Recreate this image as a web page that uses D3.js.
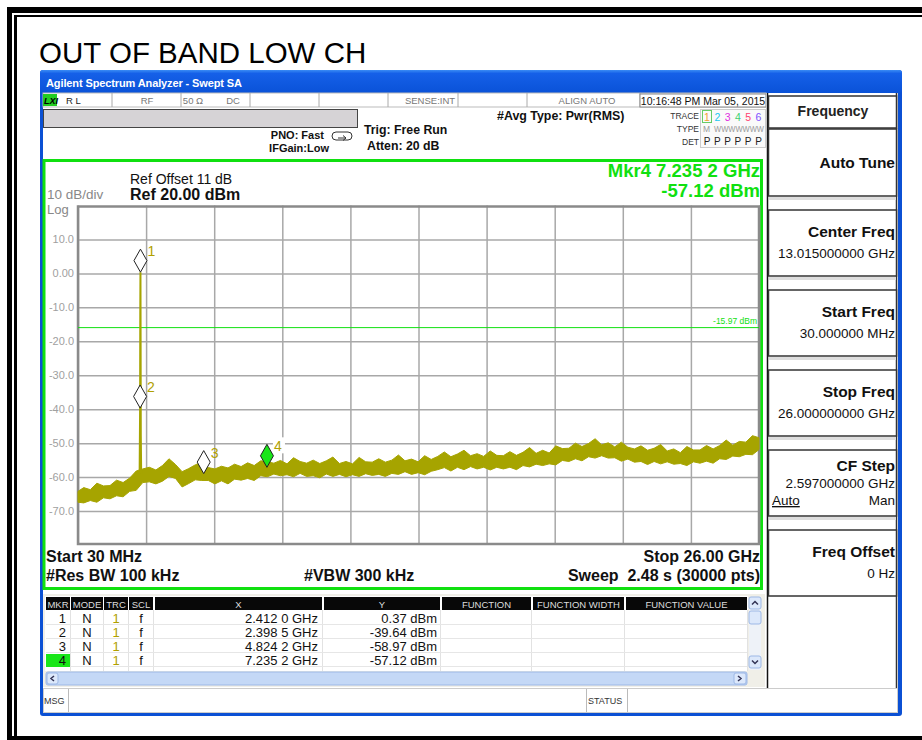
<!DOCTYPE html>
<html><head><meta charset="utf-8">
<script src="https://cdn.jsdelivr.net/npm/d3@7"></script>
<style>body{margin:0;background:#fff}svg{display:block}text{font-family:"Liberation Sans",Arial,sans-serif}</style>
</head><body>
<script>
// ---------- DATA ----------
const chartTitle = "OUT OF BAND LOW CH";
const startGHz = 0.03, stopGHz = 26.0;
const refLevel = 20, dbPerDiv = 10, nDivY = 10, nDivX = 10;
const yTickValues = [10, 0, -10, -20, -30, -40, -50, -60, -70];
const yTickLabels = ["10.0", "0.00", "-10.0", "-20.0", "-30.0", "-40.0", "-50.0", "-60.0", "-70.0"];
const displayLine = -15.97;
const traceStepGHz = 0.25;
const traceLow = [-67.4,-67.6,-66.9,-67.4,-66.1,-66.4,-65.5,-65.8,-64.2,-63.9,
 -61.6,-61.4,-62.0,-61.2,-59.8,-60.4,-62.9,-61.9,-60.8,-61.0,
 -61.0,-62.0,-61.1,-62.0,-60.6,-60.9,-60.4,-61.0,-59.6,-59.9,
 -59.1,-59.6,-59.3,-59.9,-58.9,-59.8,-59.6,-60.2,-59.1,-59.8,
 -59.2,-59.9,-59.3,-59.8,-59.0,-59.5,-59.2,-59.8,-58.9,-59.2,
 -58.4,-59.2,-58.7,-59.3,-58.3,-57.8,-57.2,-58.2,-57.1,-57.8,
 -56.9,-57.6,-57.1,-57.9,-57.1,-57.6,-57.1,-57.8,-56.6,-57.0,
 -56.2,-56.6,-56.1,-56.4,-55.1,-55.4,-54.6,-55.2,-54.0,-54.4,
 -53.7,-54.4,-54.3,-55.3,-54.7,-55.6,-55.4,-56.3,-55.4,-56.1,
 -55.5,-56.2,-56.0,-56.6,-55.5,-55.9,-55.3,-55.9,-54.6,-54.8,
 -53.8,-54.0,-53.3,-53.4,-51.9];
const traceHigh = [-64.2,-63.1,-63.7,-61.8,-62.6,-62.5,-60.9,-61.6,-60.3,-58.2,
 -57.6,-57.1,-57.9,-56.6,-54.6,-56.3,-58.4,-57.5,-56.4,-55.6,
 -57.2,-57.6,-56.8,-57.3,-56.2,-56.9,-55.8,-56.6,-55.2,-55.5,
 -55.9,-55.1,-56.1,-54.3,-55.4,-55.9,-55.0,-56.0,-55.2,-54.1,
 -56.0,-55.4,-56.1,-54.2,-55.5,-55.6,-54.6,-55.6,-55.0,-53.5,
 -55.2,-54.7,-55.5,-53.7,-54.8,-53.9,-52.6,-54.0,-53.2,-52.1,
 -53.7,-53.1,-53.9,-52.3,-53.6,-53.7,-52.5,-53.6,-52.7,-51.3,
 -53.0,-52.1,-52.9,-50.8,-51.6,-51.5,-50.0,-51.0,-50.1,-48.7,
 -50.5,-49.9,-51.1,-49.7,-51.2,-51.7,-50.8,-52.1,-51.5,-50.4,
 -52.3,-51.7,-52.8,-51.0,-52.0,-52.0,-50.7,-51.7,-50.7,-49.1,
 -50.6,-49.5,-49.7,-47.8,-48.4];
// carrier spike (GHz, dBm)
const carrierFreq = [2.380, 2.3985, 2.405, 2.412, 2.418, 2.425, 2.440];
const carrierLevel = [-59.0, -39.64, -12.0, 0.37, -22.0, -48.0, -59.5];
// markers
const markerIds = [1, 2, 3, 4];
const markerFreqGHz = [2.4120, 2.3985, 4.8242, 7.2352];
const markerLevel = [0.37, -39.64, -58.97, -57.12];
const markerXText = ["2.412 0 GHz", "2.398 5 GHz", "4.824 2 GHz", "7.235 2 GHz"];
const markerYText = ["0.37 dBm", "-39.64 dBm", "-58.97 dBm", "-57.12 dBm"];
const activeMarker = 4;
// softkeys
const softTitles = ["Center Freq", "Start Freq", "Stop Freq", "CF Step", "Freq Offset"];
const softValues = ["13.015000000 GHz", "30.000000 MHz", "26.000000000 GHz", "2.597000000 GHz", "0 Hz"];
const traceColors = ["#f0a030", "#20c8f0", "#e030e0", "#40d070", "#ff4070", "#8050ff"];

// ---------- DRAW ----------
const W = 922, H = 740;
const svg = d3.select("body").append("svg").attr("width", W).attr("height", H);
const OLIVE = "#a6a400", GREEN = "#10e010", GRID = "#a8a8a8";

// outer frame
svg.append("rect").attr("x", 7).attr("y", 7).attr("width", 915).attr("height", 6).attr("fill", "#000");
svg.append("rect").attr("x", 7).attr("y", 7).attr("width", 5).attr("height", 733).attr("fill", "#000");
svg.append("rect").attr("x", 14).attr("y", 15).attr("width", 908).attr("height", 2).attr("fill", "#000");
svg.append("rect").attr("x", 14).attr("y", 15).attr("width", 3).attr("height", 725).attr("fill", "#000");
svg.append("rect").attr("x", 7).attr("y", 736).attr("width", 915).attr("height", 4).attr("fill", "#000");
svg.append("text").attr("x", 39).attr("y", 63).attr("font-size", 29.5).attr("fill", "#000").text(chartTitle);

// window
const defs = svg.append("defs");
const g1 = defs.append("linearGradient").attr("id", "tb").attr("x1", 0).attr("y1", 0).attr("x2", 0).attr("y2", 1);
g1.append("stop").attr("offset", "0%").attr("stop-color", "#3a8cf4");
g1.append("stop").attr("offset", "15%").attr("stop-color", "#1560e8");
g1.append("stop").attr("offset", "100%").attr("stop-color", "#0a52d8");
svg.append("rect").attr("x", 40).attr("y", 70).attr("width", 862).attr("height", 646).attr("rx", 3).attr("fill", "#0b50d4");
svg.append("rect").attr("x", 40).attr("y", 70).attr("width", 862).attr("height", 23).attr("rx", 3).attr("fill", "url(#tb)");
svg.append("rect").attr("x", 43).attr("y", 93).attr("width", 855).attr("height", 620).attr("fill", "#fff");
svg.append("text").attr("x", 46).attr("y", 87).attr("font-size", 11).attr("font-weight", "bold").attr("fill", "#fff")
  .attr("font-family", "'DejaVu Sans',sans-serif").attr("textLength", 196).text("Agilent Spectrum Analyzer - Swept SA");

// status row
svg.append("rect").attr("x", 43).attr("y", 93).attr("width", 723).attr("height", 14).attr("fill", "#fff").attr("stroke", "#bbb");
[112, 181, 250, 319, 388, 458, 527, 640].forEach(x => svg.append("line").attr("x1", x).attr("x2", x).attr("y1", 93).attr("y2", 107).attr("stroke", "#aaa"));
svg.append("rect").attr("x", 43).attr("y", 94).attr("width", 14).attr("height", 12).attr("fill", "#22cc22");
svg.append("text").attr("x", 44).attr("y", 104).attr("font-size", 9).attr("font-weight", "bold").attr("font-style", "italic").text("LXI");
const st = (x, t, anchor) => svg.append("text").attr("x", x).attr("y", 104).attr("font-size", 9.5).attr("fill", "#777").attr("text-anchor", anchor || "start").text(t);
st(66, "R L").attr("fill", "#222"); st(147, "RF", "middle"); st(193, "50 Ω", "middle"); st(233, "DC", "middle");
st(430, "SENSE:INT", "middle"); st(587, "ALIGN AUTO", "middle");
svg.append("rect").attr("x", 640).attr("y", 94).attr("width", 126).attr("height", 13).attr("fill", "#fff").attr("stroke", "#888");
svg.append("text").attr("x", 703).attr("y", 104.5).attr("font-size", 10.5).attr("text-anchor", "middle").attr("fill", "#111").text("10:16:48 PM Mar 05, 2015");

// gray bar + settings
svg.append("rect").attr("x", 43.5).attr("y", 109.5).attr("width", 314).attr("height", 18).attr("fill", "#d6d3d6").attr("stroke", "#444");
const bt = (x, y, t, fs, anchor) => svg.append("text").attr("x", x).attr("y", y).attr("font-size", fs).attr("font-weight", "bold").attr("text-anchor", anchor || "start").attr("fill", "#111").text(t);
bt(324, 139, "PNO: Fast", 11, "end"); bt(329, 152, "IFGain:Low", 11, "end");
svg.append("rect").attr("x", 332).attr("y", 132).attr("width", 20).attr("height", 8).attr("rx", 4).attr("fill", "none").attr("stroke", "#333");
svg.append("path").attr("d", "M338,138 L346,138 M343,135.5 L346,138 L343,140.5").attr("stroke", "#333").attr("fill", "none");
bt(364, 134, "Trig: Free Run", 12.3); bt(367, 150, "Atten: 20 dB", 12.3);
bt(497, 120, "#Avg Type: Pwr(RMS)", 12.4);
const sm = (x, y, t) => svg.append("text").attr("x", x).attr("y", y).attr("font-size", 8.5).attr("text-anchor", "end").attr("fill", "#333").text(t);
sm(699, 119, "TRACE"); sm(699, 132, "TYPE"); sm(699, 145, "DET");
svg.append("rect").attr("x", 700.5).attr("y", 109.5).attr("width", 65).attr("height", 38).attr("fill", "#fafafa").attr("stroke", "#ccc");
svg.append("rect").attr("x", 702.5).attr("y", 110.5).attr("width", 9).attr("height", 12).attr("fill", "none").attr("stroke", "#6c6");
traceColors.forEach((c, i) => {
  const x = 707 + i * 10.3;
  svg.append("text").attr("x", x).attr("y", 120.5).attr("font-size", 10.5).attr("text-anchor", "middle").attr("fill", c).text(i + 1);
  svg.append("text").attr("x", x).attr("y", 145).attr("font-size", 10).attr("text-anchor", "middle").attr("fill", "#222").text("P");
});
svg.append("text").attr("x", 703).attr("y", 132).attr("font-size", 8.5).attr("fill", "#999").text("M");
svg.append("text").attr("x", 714).attr("y", 132).attr("font-size", 8.5).attr("fill", "#999").attr("textLength", 50).attr("lengthAdjust", "spacingAndGlyphs").text("WWWWWWW");

// right softkey panel
svg.append("rect").attr("x", 766).attr("y", 93).attr("width", 132).attr("height", 595).attr("fill", "#fff");
svg.append("line").attr("x1", 767.5).attr("x2", 767.5).attr("y1", 93).attr("y2", 688).attr("stroke", "#111").attr("stroke-width", 1.5);
svg.append("line").attr("x1", 896.5).attr("x2", 896.5).attr("y1", 93).attr("y2", 688).attr("stroke", "#333").attr("stroke-width", 1.5);
const box = (y, h) => svg.append("rect").attr("x", 768.5).attr("y", y).attr("width", 128).attr("height", h).attr("fill", "#fff").attr("stroke", "#333").attr("stroke-width", 1.5);
box(96, 32); box(129, 67);
svg.append("text").attr("x", 833).attr("y", 116).attr("font-size", 14).attr("font-weight", "bold").attr("text-anchor", "middle").attr("fill", "#222").text("Frequency");
bt(895, 168, "Auto Tune", 15.5, "end");
[196, 276, 356, 436, 516].forEach(y => svg.append("rect").attr("x", 769).attr("y", y + 1).attr("width", 127).attr("height", 3).attr("fill", "#ddd"));
softTitles.forEach((t, i) => {
  const y0 = 210 + i * 80;
  const cf = i === 3;
  box(y0, 66);
  bt(895, y0 + (cf ? 21 : 27), t, 15.5, "end");
  svg.append("text").attr("x", 895).attr("y", y0 + (cf ? 38 : 48)).attr("font-size", 13.5).attr("text-anchor", "end").attr("fill", "#111").text(softValues[i]);
});
svg.append("text").attr("x", 772).attr("y", 505).attr("font-size", 13.5).attr("fill", "#111").attr("text-decoration", "underline").text("Auto");
svg.append("text").attr("x", 895).attr("y", 505).attr("font-size", 13.5).attr("text-anchor", "end").attr("fill", "#111").text("Man");

// plot panel
svg.append("rect").attr("x", 44).attr("y", 160.5).attr("width", 717.5).attr("height", 428).attr("fill", "#fff").attr("stroke", GREEN).attr("stroke-width", 3);
const x = d3.scaleLinear().domain([startGHz, stopGHz]).range([78, 759]);
const y = d3.scaleLinear().domain([refLevel - dbPerDiv * nDivY, refLevel]).range([545, 205.5]);
const xGridVals = d3.range(nDivX + 1).map(i => startGHz + (stopGHz - startGHz) * i / nDivX);
const gx = svg.append("g").attr("transform", "translate(0,545)")
  .call(d3.axisBottom(x).tickValues(xGridVals).tickSize(-(545 - 205.5)).tickFormat(""));
gx.selectAll("line").attr("stroke", GRID).attr("stroke-width", 1.5);
gx.select(".domain").remove();
const gy = svg.append("g").attr("transform", "translate(78,0)")
  .call(d3.axisLeft(y).tickValues(yTickValues).tickSize(-(759 - 78)).tickPadding(4).tickFormat((d, i) => yTickLabels[i]));
gy.selectAll("line").attr("stroke", GRID).attr("stroke-width", 1.5);
gy.select(".domain").remove();
gy.selectAll("text").attr("fill", "#a0a0a0").attr("font-size", 11).attr("font-family", "'Liberation Sans',Arial,sans-serif");
svg.append("rect").attr("x", 78).attr("y", 206.5).attr("width", 681).attr("height", 337.5).attr("fill", "none").attr("stroke", "#8a8a8a").attr("stroke-width", 2.5);

// display line
svg.append("line").attr("x1", 78).attr("x2", 759).attr("y1", y(displayLine)).attr("y2", y(displayLine)).attr("stroke", GREEN).attr("stroke-width", 1);
svg.append("text").attr("x", 757).attr("y", y(displayLine) - 4).attr("font-size", 8.5).attr("text-anchor", "end").attr("fill", GREEN).text(displayLine.toFixed(2) + " dBm");

// trace
const traceData = traceLow.map((lo, i) => ({ f: Math.max(startGHz, i * traceStepGHz), lo, hi: traceHigh[i] }));
svg.append("path").datum(traceData)
  .attr("d", d3.area().x(d => x(d.f)).y0(d => y(d.lo)).y1(d => y(d.hi)))
  .attr("fill", OLIVE).attr("stroke", OLIVE).attr("stroke-width", 1).attr("stroke-linejoin", "miter");
svg.append("path").datum(carrierFreq.map((f, i) => [f, carrierLevel[i]]))
  .attr("d", d3.line().x(d => x(d[0])).y(d => y(d[1])))
  .attr("fill", "none").attr("stroke", OLIVE).attr("stroke-width", 2);

// markers
markerIds.forEach((id, i) => {
  const px = x(markerFreqGHz[i]), py = y(markerLevel[i]);
  const active = id === activeMarker;
  svg.append("path").attr("d", `M${px},${py} L${px + 6.5},${py - 11.5} L${px},${py - 23} L${px - 6.5},${py - 11.5} Z`)
    .attr("fill", active ? "#19e619" : "#fff").attr("stroke", "#222").attr("stroke-width", 1);
  if (active) svg.append("rect").attr("x", px + 6).attr("y", py - 30).attr("width", 12).attr("height", 16).attr("fill", "#fff");
  svg.append("text").attr("x", px + 7).attr("y", py - 16).attr("font-size", 14).attr("fill", "#b0a000").text(id);
});

// panel annotations
svg.append("text").attr("x", 760).attr("y", 176.5).attr("font-size", 18.5).attr("font-weight", "bold").attr("text-anchor", "end").attr("fill", GREEN)
  .text(`Mkr${activeMarker} ${markerXText[activeMarker - 1]}`);
svg.append("text").attr("x", 760).attr("y", 197).attr("font-size", 18.5).attr("font-weight", "bold").attr("text-anchor", "end").attr("fill", GREEN)
  .text(markerYText[activeMarker - 1]);
svg.append("text").attr("x", 130).attr("y", 184).attr("font-size", 14).attr("fill", "#111").text("Ref Offset 11 dB");
bt(130, 200, "Ref 20.00 dBm", 16);
svg.append("text").attr("x", 47).attr("y", 198.5).attr("font-size", 13.5).attr("fill", "#888").text("10 dB/div");
svg.append("text").attr("x", 47).attr("y", 213.5).attr("font-size", 13).attr("fill", "#888").text("Log");
bt(46, 562, "Start 30 MHz", 16); bt(46, 581, "#Res BW 100 kHz", 16); bt(304, 581, "#VBW 300 kHz", 16);
bt(760, 562, "Stop 26.00 GHz", 16, "end");
svg.append("text").attr("x", 760).attr("y", 581).attr("font-size", 16).attr("font-weight", "bold").attr("text-anchor", "end").attr("fill", "#111")
  .attr("xml:space", "preserve").style("white-space", "pre").text("Sweep  2.48 s (30000 pts)");

// marker table
svg.append("rect").attr("x", 43).attr("y", 594).attr("width", 722).attr("height", 93).attr("fill", "#f0efe8");
svg.append("rect").attr("x", 45).attr("y", 596).attr("width", 703).attr("height", 75).attr("fill", "#fff");
const cols = [[46, 70, "MKR"], [71, 103, "MODE"], [104, 128, "TRC"], [129, 153, "SCL"], [155, 322, "X"], [324, 440, "Y"], [442, 531, "FUNCTION"], [533, 624, "FUNCTION WIDTH"], [626, 747, "FUNCTION VALUE"]];
cols.forEach(([a, b, t]) => {
  svg.append("rect").attr("x", a).attr("y", 597).attr("width", b - a).attr("height", 13).attr("fill", "#080808");
  svg.append("text").attr("x", (a + b) / 2).attr("y", 607.5).attr("font-size", 9.5).attr("text-anchor", "middle").attr("fill", "#ddd").text(t);
  svg.append("line").attr("x1", b + 0.5).attr("x2", b + 0.5).attr("y1", 610).attr("y2", 671).attr("stroke", "#e2e2e2");
});
[624.5, 638.5, 652.5, 666.5].forEach(yy => svg.append("line").attr("x1", 46).attr("x2", 747).attr("y1", yy).attr("y2", yy).attr("stroke", "#e6e6e6"));
markerIds.forEach((id, i) => {
  const by = 623 + i * 14;
  if (id === activeMarker) svg.append("rect").attr("x", 46).attr("y", by - 11).attr("width", 24).attr("height", 13).attr("fill", "#19e619");
  const t = (xx, s, anchor, fill) => svg.append("text").attr("x", xx).attr("y", by).attr("font-size", 13).attr("text-anchor", anchor).attr("fill", fill || "#111").text(s);
  t(66, id, "end"); t(87, "N", "middle"); t(116, "1", "middle", "#b0a000"); t(141, "f", "middle");
  t(318, markerXText[i], "end"); t(437, markerYText[i], "end");
});
// scrollbars
svg.append("rect").attr("x", 46).attr("y", 672).attr("width", 701).attr("height", 13).attr("rx", 2).attr("fill", "#c4d8f6").attr("stroke", "#9db8e6");
svg.append("rect").attr("x", 47).attr("y", 673).attr("width", 11).attr("height", 11).attr("rx", 2).attr("fill", "#dce8fb").attr("stroke", "#9db8e6");
svg.append("rect").attr("x", 734).attr("y", 673).attr("width", 12).attr("height", 11).attr("rx", 2).attr("fill", "#dce8fb").attr("stroke", "#9db8e6");
svg.append("path").attr("d", "M54,676 L51,678.5 L54,681 M738,676 L741,678.5 L738,681").attr("stroke", "#335").attr("stroke-width", 1.5).attr("fill", "none");
svg.append("rect").attr("x", 749).attr("y", 597).attr("width", 12).attr("height", 73).attr("fill", "#eef2f8");
svg.append("rect").attr("x", 749).attr("y", 597).attr("width", 12).attr("height", 12).attr("rx", 2).attr("fill", "#dce8fb").attr("stroke", "#9db8e6");
svg.append("rect").attr("x", 749).attr("y", 611).attr("width", 12).attr("height", 13).attr("rx", 2).attr("fill", "#dce8fb").attr("stroke", "#9db8e6");
svg.append("rect").attr("x", 749).attr("y", 656).attr("width", 12).attr("height", 12).attr("rx", 2).attr("fill", "#dce8fb").attr("stroke", "#9db8e6");
svg.append("path").attr("d", "M752,604.5 L755,601.5 L758,604.5 M752,660.5 L755,663.5 L758,660.5").attr("stroke", "#335").attr("stroke-width", 1.5).attr("fill", "none");

// message bar
svg.append("rect").attr("x", 43.5).attr("y", 688.5).attr("width", 854).attr("height", 24).attr("fill", "#fff").attr("stroke", "#ccc");
[68, 586, 627].forEach(xx => svg.append("line").attr("x1", xx + 0.5).attr("x2", xx + 0.5).attr("y1", 689).attr("y2", 712).attr("stroke", "#bbb"));
svg.append("text").attr("x", 44).attr("y", 704).attr("font-size", 9).attr("fill", "#333").text("MSG");
svg.append("text").attr("x", 588).attr("y", 704).attr("font-size", 9).attr("fill", "#333").text("STATUS");
</script>
</body></html>
